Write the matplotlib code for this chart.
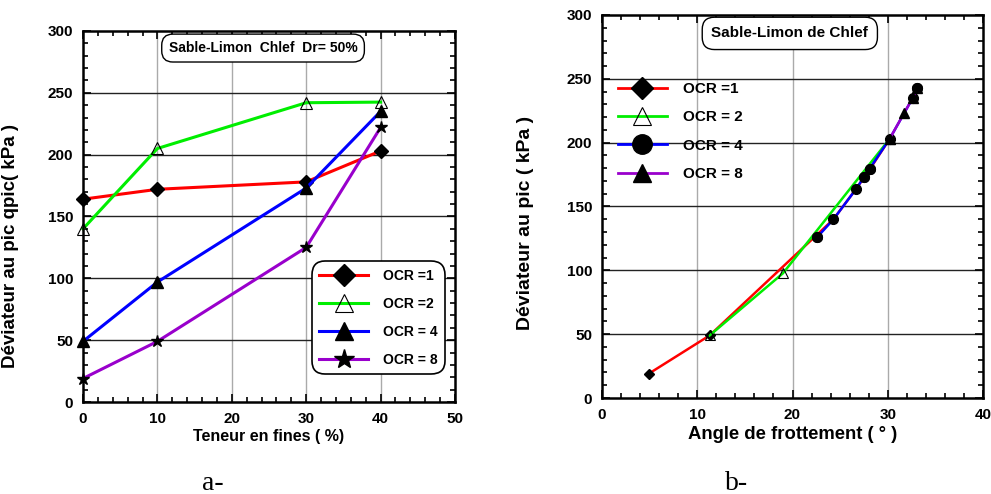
import matplotlib
matplotlib.use("Agg")
import matplotlib.pyplot as plt
from matplotlib.ticker import MultipleLocator

plt.rcParams['font.family'] = ['Liberation Sans', 'DejaVu Sans']
plt.rcParams['font.weight'] = 'bold'

# ---- Data (a) : deviator at peak vs fines content ----
fines = [0, 10, 30, 40]
q_ocr1 = [164, 172, 178, 203]
q_ocr2 = [140, 205, 242, 242.5]
q_ocr4 = [49, 97, 173, 235]
q_ocr8 = [19, 49, 125, 222]
labels_a = ["OCR =1", "OCR =2", "OCR = 4", "OCR = 8"]

# ---- Data (b) : deviator at peak vs friction angle ----
phi_ocr1 = [4.9, 11.3, 24.3, 26.7, 28.1, 30.2]
qb_ocr1 = [19, 49, 140, 164, 179, 203]
phi_ocr2 = [11.3, 19.0, 30.2]
qb_ocr2 = [49, 97.7, 203]
phi_ocr4 = [22.6, 24.3, 26.7, 27.5, 28.1, 30.2, 32.6, 33.1]
qb_ocr4 = [126, 140, 164, 173, 179.6, 203, 234.7, 243]
phi_ocr8 = [30.2, 31.7, 32.6, 33.1]
qb_ocr8 = [203, 223, 234.7, 243]
phi_circles = [22.6, 27.5, 28.1, 33.1]
q_circles = [126, 173, 179.6, 243]
labels_b = ["OCR =1", "OCR = 2", "OCR = 4", "OCR = 8"]

colors = ['#ff0000', '#00ee00', '#0000ff', '#9900cc']

fig = plt.figure(figsize=(9.91, 4.94), dpi=100)

ax1 = fig.add_axes([83/991, 1-402/494, 372/991, 371/494])
ax2 = fig.add_axes([602/991, 1-398/494, 381/991, 383/494])


def style_axes(ax, xmax, xmaj, vgrid):
    ax.set_ylim(0, 300)
    ax.set_xlim(0, xmax)
    ax.xaxis.set_major_locator(MultipleLocator(xmaj))
    ax.xaxis.set_minor_locator(MultipleLocator(2))
    ax.yaxis.set_major_locator(MultipleLocator(50))
    ax.yaxis.set_minor_locator(MultipleLocator(10))
    ax.tick_params(which='both', direction='in', top=True, right=True, width=1.2)
    ax.tick_params(which='major', length=6, labelsize=11, pad=7)
    ax.tick_params(which='minor', length=3.5)
    for s in ax.spines.values():
        s.set_linewidth(1.8)
    for v in vgrid:
        ax.axvline(v, color='#aaaaaa', lw=1, zorder=0)
    for h in [50, 100, 150, 200, 250]:
        ax.axhline(h, color='#222222', lw=1, zorder=0)


style_axes(ax1, 50, 10, [10, 20, 30, 40])
style_axes(ax2, 40, 10, [10, 20, 30])

# ---- Panel a ----
ax1.plot(fines, q_ocr1, color=colors[0], lw=2.2, marker='D', ms=7, mfc='black', mec='black', label=labels_a[0], clip_on=False)
ax1.plot(fines, q_ocr2, color=colors[1], lw=2.2, marker='^', ms=8, mfc='none', mec='black', mew=0.8, label=labels_a[1], clip_on=False)
ax1.plot(fines, q_ocr4, color=colors[2], lw=2.2, marker='^', ms=8, mfc='black', mec='black', label=labels_a[2], clip_on=False)
ax1.plot(fines, q_ocr8, color=colors[3], lw=2.2, marker='*', ms=9, mfc='black', mec='black', label=labels_a[3], clip_on=False)

ax1.set_xlabel("Teneur en fines ( %)", fontsize=11.5, fontweight='bold', labelpad=2)
ax1.set_ylabel("Déviateur au pic qpic( kPa )", fontsize=13.5, fontweight='bold')
ax1.yaxis.set_label_coords(-0.173, 0.42)

leg1 = ax1.legend(loc='lower right', bbox_to_anchor=((444-83)/372, (402-373)/371),
                  borderaxespad=0, prop={'weight': 'bold', 'size': 10},
                  handlelength=3.5, markerscale=1.6, borderpad=0.45, labelspacing=1.0,
                  handletextpad=1.1, fancybox=True, framealpha=1, edgecolor='black')
leg1.get_frame().set_linewidth(1.2)
leg1.get_frame().set_boxstyle('round,pad=0.1,rounding_size=1.0')

ax1.text(0.484, 0.954, "Sable-Limon  Chlef  Dr= 50%", transform=ax1.transAxes,
         ha='center', va='center', fontsize=10, fontweight='bold',
         bbox=dict(boxstyle='round,pad=0.5,rounding_size=0.8', fc='white', ec='black', lw=1))

# ---- Panel b ----
ax2.plot(phi_ocr1, qb_ocr1, color=colors[0], lw=1.8, marker='D', ms=5.5, mfc='black', mec='black', label=labels_b[0], zorder=3)
ax2.plot(phi_ocr2, qb_ocr2, color=colors[1], lw=1.8, marker='^', ms=6.5, mfc='none', mec='black', mew=0.8, label=labels_b[1], zorder=4)
ax2.plot(phi_ocr4, qb_ocr4, color=colors[2], lw=1.8, marker='o', ms=0, mfc='black', mec='black', label=labels_b[2], zorder=5)
ax2.plot(phi_ocr8, qb_ocr8, color=colors[3], lw=1.8, marker='^', ms=6.5, mfc='black', mec='black', label=labels_b[3], zorder=6)
ax2.plot(phi_circles, q_circles, ls='none', marker='o', ms=7, mfc='black', mec='black', zorder=7)

ax2.set_xlabel("Angle de frottement ( ° )", fontsize=13.3, fontweight='bold', labelpad=3)
ax2.set_ylabel("Déviateur au pic ( kPa )", fontsize=14, fontweight='bold')
ax2.yaxis.set_label_coords(-0.178, 0.457)

h, l = ax2.get_legend_handles_labels()
h[2].set_markersize(7)
leg2 = ax2.legend(h, l, loc='upper left', bbox_to_anchor=((618-602)/381, (398-82)/383),
                  frameon=False, borderaxespad=0, borderpad=0,
                  prop={'weight': 'bold', 'size': 11}, handlelength=3.2, markerscale=2.0,
                  labelspacing=0.94, handletextpad=1.05)
for lh in leg2.legend_handles:
    lh.set_linewidth(2)

ax2.text(0.493, 0.952, "Sable-Limon de Chlef", transform=ax2.transAxes,
         ha='center', va='center', fontsize=11, fontweight='bold',
         bbox=dict(boxstyle='round,pad=0.6,rounding_size=0.8', fc='white', ec='black', lw=1))

fig.text(213/991, 1-483/494, "a-", ha='center', va='center', fontsize=20,
         family=['Liberation Serif', 'DejaVu Serif'], fontweight='normal')
fig.text(737/991, 1-483/494, "b-", ha='center', va='center', fontsize=20,
         family=['Liberation Serif', 'DejaVu Serif'], fontweight='normal')

fig.savefig("out.png", dpi=100)
